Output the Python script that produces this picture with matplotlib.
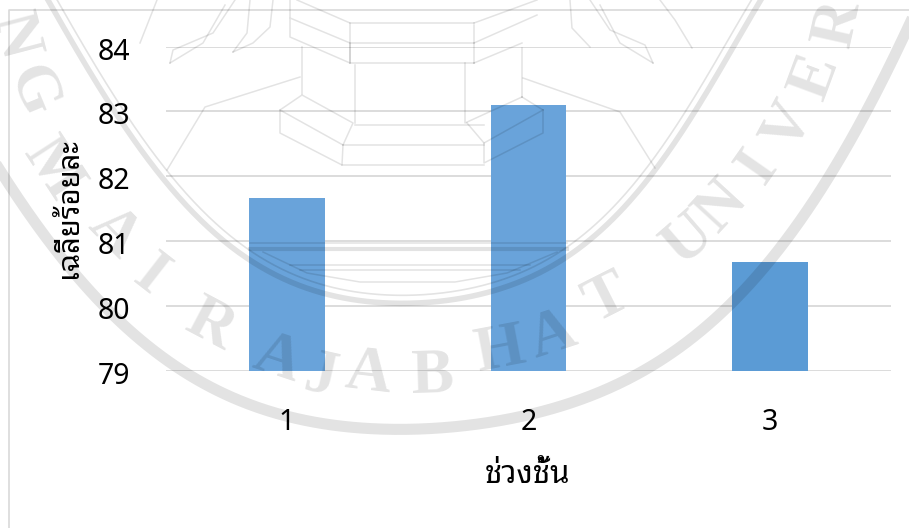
import numpy as np
from matplotlib import pyplot as plt
from matplotlib.transforms import ScaledTranslation

categories = [1, 2, 3]
values = [81.66, 83.1, 80.68]
bar_colors = ["#69A3DA", "#69A3DA", "#5B9BD5"]
y_ticks = [79, 80, 81, 82, 83, 84]
x_title = "ช่วงชั้น"
y_title = "เฉลี่ยร้อยละ"

W, H = 909, 528
THAI = ["Noto Sans Thai Looped", "Noto Sans"]

# watermark letters, pixel position of each glyph in the seal
seal_letters = [("N", 13, 37), ("G", 32, 92), ("M", 52, 170), ("A", 113, 233), ("I", 150, 277),
                ("R", 210, 327), ("A", 277, 360), ("J", 320, 377), ("A", 368, 375), ("B", 433, 377),
                ("H", 500, 352), ("A", 553, 337), ("T", 607, 300), ("U", 689, 240), ("N", 722, 207),
                ("I", 759, 167), ("V", 789, 127), ("E", 816, 77), ("R", 839, 23)]

# read along the two rings of the seal, in pixels
inner_ring = [(30, -30), (50, 0), (110, 110), (167, 177), (250, 264), (323, 293), (408, 301),
              (490, 293), (567, 258), (609, 223), (652, 170), (696, 113), (760, 0), (780, -30)]
outer_ring = [(-20, 140), (0, 167), (123, 327), (267, 407), (430, 433), (567, 400), (683, 345),
              (756, 283), (822, 180), (869, 110), (906, 33), (920, 0)]

# building, flame and boat outlines of the seal, in pixels
seal_lines = [
    [(290, 18), (350, 43), (350, 63), (290, 37), (290, 0)],
    [(297, 0), (350, 23), (350, 63)],
    [(302, 47), (302, 95), (353, 123), (343, 145), (280, 110), (302, 95)],
    [(355, 65), (355, 123)],
    [(280, 110), (280, 133), (342, 165), (343, 145)],
    [(350, 23), (474, 23)], [(350, 43), (474, 43)], [(350, 63), (474, 63)],
    [(355, 125), (484, 125)], [(343, 145), (484, 145)], [(342, 165), (484, 165)],
    [(474, 23), (537, 0)], [(474, 43), (537, 15)], [(474, 63), (522, 43)],
    [(474, 25), (474, 63)],
    [(522, 48), (522, 97)], [(522, 97), (465, 123), (465, 63)],
    [(543, 110), (522, 97)], [(543, 110), (543, 133), (484, 163), (484, 143), (543, 110)],
    [(484, 143), (467, 123)],
    [(167, 170), (205, 107), (300, 77)],
    [(523, 78), (620, 112), (655, 168)],
    [(170, 63), (173, 50), (213, 33), (235, 0)],
    [(233, 52), (247, 33), (250, 0)],
    [(273, 0), (270, 27), (253, 43), (233, 52)],
    [(140, 43), (157, 0)],
    [(170, 63), (203, 43), (225, 5)],
    [(653, 63), (645, 45), (610, 30), (590, 0)],
    [(590, 47), (572, 28), (570, 0)],
    [(692, 48), (675, 20), (660, 0)],
    [(653, 63), (620, 43), (600, 5)],
    [(250, 243), (567, 243)], [(263, 252), (307, 273), (360, 282), (455, 282), (507, 273), (557, 252)],
    [(290, 265), (530, 265)], [(300, 270), (520, 270)],
]


def ring_curve(points, offset=0.0):
    # smooth line through the read points, moved along its normal by offset
    pts = np.array(points, dtype=float)
    coef = np.polyfit(pts[:, 0], pts[:, 1], 7)
    xs = np.linspace(pts[0, 0], pts[-1, 0], 400)
    ys = np.polyval(coef, xs)
    slope = np.polyval(np.polyder(coef), xs)
    norm = np.sqrt(1 + slope ** 2)
    return xs + offset * slope / norm, ys - offset / norm


def draw_seal(ax):
    ink = dict(color="black", alpha=0.11)
    ax.plot(*ring_curve(outer_ring), lw=8, **ink)
    ax.plot(*ring_curve(inner_ring), lw=4, **ink)
    ax.plot(*ring_curve(inner_ring, 8), lw=1.2, **ink)
    for pts in seal_lines:
        xs, ys = zip(*pts)
        ax.plot(xs, ys, lw=1.1, **ink)
    ax.plot([250, 567], [249, 249], lw=3, **ink)
    for ch, x, y in seal_letters:
        rot = np.degrees(np.arctan2(x - 420, y + 70))
        ax.text(x, y, ch, fontsize=46, family="Liberation Serif", weight="bold",
                ha="center", va="center", rotation=rot, rotation_mode="anchor", **ink)


fig = plt.figure(figsize=(W / 100, H / 100), dpi=100, facecolor="white")
ax = fig.add_axes([166 / W, 1 - 370.5 / H, 725 / W, 324 / H])

ax.bar(categories, np.array(values) - 79, bottom=79, width=0.314, color=bar_colors, zorder=2)
ax.set_xlim(0.5, 3.5)
ax.set_ylim(79, 84)
ax.set_yticks(y_ticks)
ax.set_xticks(categories)
ax.grid(axis="y", color="#D9D9D9", lw=1.3, zorder=1)
ax.set_axisbelow(True)
for s in ax.spines.values():
    s.set_visible(False)
ax.tick_params(length=0, labelsize=20.5, labelcolor="black")
ax.tick_params(axis="y", pad=26)
ax.tick_params(axis="x", pad=27)
for t in ax.get_xticklabels() + ax.get_yticklabels():
    t.set_family("Noto Sans")
nudge = ScaledTranslation(0, -2 / 100, fig.dpi_scale_trans)
for t in ax.get_yticklabels():
    t.set_verticalalignment("center_baseline")
    t.set_transform(t.get_transform() + nudge)

# overlay in image pixels for the frame and the watermark
over = fig.add_axes([0, 0, 1, 1], zorder=5)
over.axis("off")
over.patch.set_alpha(0)
over.plot([8.5, 8.5, W], [H, 10, 10], color="#D9D9D9", lw=1.2)
draw_seal(over)
over.set_xlim(0, W)
over.set_ylim(H, 0)

fig.text(528 / W, 1 - 475 / H, x_title, fontsize=22.5, weight="bold", family=THAI,
         ha="center", va="center")
fig.text(70 / W, 1 - 208 / H, y_title, fontsize=21, weight="bold", family=THAI,
         ha="center", va="center", rotation=90)

fig.savefig("out.png", dpi=100)
